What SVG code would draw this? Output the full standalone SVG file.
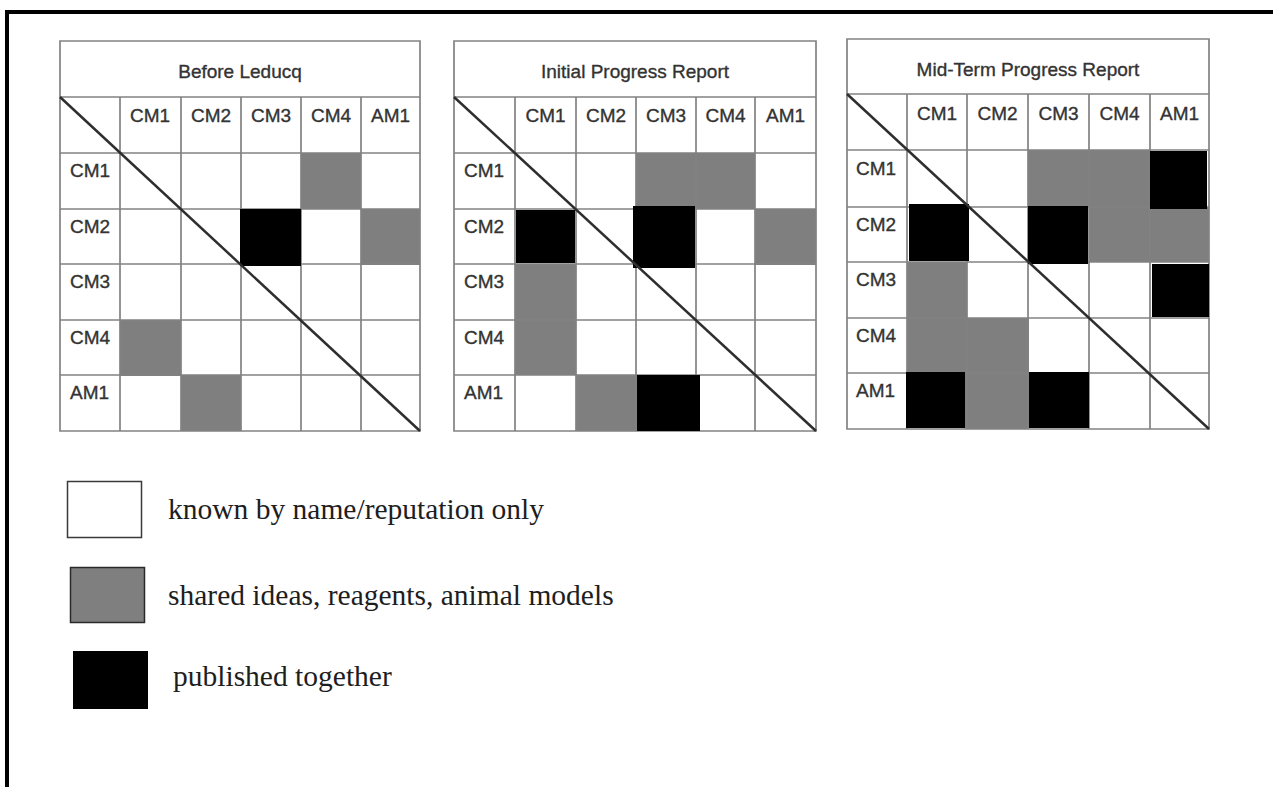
<svg xmlns="http://www.w3.org/2000/svg" width="1273" height="787" viewBox="0 0 1273 787">
<style>
.bg{fill:#ffffff}
.grid{stroke:#828282;stroke-width:1.7;fill:none}
.diag{stroke:#2e2e2e;stroke-width:2.5}
.g{fill:#7f7f7f}
.k{fill:#000000}
.t{font-family:"Liberation Sans",Arial,sans-serif;font-size:19px;fill:#333333;stroke:#333333;stroke-width:0.35}
.c{text-anchor:middle}
.lg{font-family:"Liberation Serif","Times New Roman",serif;font-size:29.5px;fill:#1e1e1e}
</style>
<rect width="1273" height="787" fill="#ffffff"/>
<g id="frame">
<line x1="5" y1="12" x2="1273" y2="12" stroke="#000" stroke-width="4"/>
<line x1="7" y1="10" x2="7" y2="787" stroke="#000" stroke-width="4"/>
</g>

<g id="matrix-before">
<rect class="g" x="301" y="153" width="60" height="56"/>
<rect class="g" x="361" y="209" width="59" height="56"/>
<rect class="g" x="120" y="320" width="61" height="56"/>
<rect class="g" x="181" y="375" width="60" height="56"/>
<path class="grid" d="M60 41H420V431H60Z M60 97H420 M60 153H420 M60 209H420 M60 264H420 M60 320H420 M60 375H420 M120 97V431 M181 97V431 M241 97V431 M301 97V431 M361 97V431"/>
<rect class="k" x="240" y="209" width="61" height="57"/>
<line class="diag" x1="60" y1="97" x2="420" y2="431"/>
<text class="t c" x="240" y="78">Before Leducq</text>
<text class="t c" x="150" y="122">CM1</text>
<text class="t c" x="211" y="122">CM2</text>
<text class="t c" x="271" y="122">CM3</text>
<text class="t c" x="331" y="122">CM4</text>
<text class="t c" x="390.5" y="122">AM1</text>
<text class="t" x="70" y="177">CM1</text>
<text class="t" x="70" y="233">CM2</text>
<text class="t" x="70" y="288">CM3</text>
<text class="t" x="70" y="344">CM4</text>
<text class="t" x="70" y="399">AM1</text>
</g>

<g id="matrix-initial">
<rect class="g" x="636" y="153" width="60" height="56"/>
<rect class="g" x="696" y="153" width="59" height="56"/>
<rect class="g" x="755" y="209" width="61" height="56"/>
<rect class="g" x="515" y="264" width="61" height="56"/>
<rect class="g" x="515" y="320" width="61" height="55"/>
<rect class="g" x="576" y="375" width="61" height="56"/>
<path class="grid" d="M454 41H816V431H454Z M454 97H816 M454 153H816 M454 209H816 M454 264H816 M454 320H816 M454 375H816 M515 97V431 M576 97V431 M636 97V431 M696 97V431 M755 97V431"/>
<rect class="k" x="516" y="210" width="59" height="53"/>
<rect class="k" x="633" y="206" width="62" height="62"/>
<rect class="k" x="637" y="375" width="63" height="56"/>
<line class="diag" x1="454" y1="97" x2="816" y2="431"/>
<text class="t c" x="635" y="78">Initial Progress Report</text>
<text class="t c" x="545.5" y="122">CM1</text>
<text class="t c" x="606" y="122">CM2</text>
<text class="t c" x="666" y="122">CM3</text>
<text class="t c" x="725.5" y="122">CM4</text>
<text class="t c" x="785.5" y="122">AM1</text>
<text class="t" x="464" y="177">CM1</text>
<text class="t" x="464" y="233">CM2</text>
<text class="t" x="464" y="288">CM3</text>
<text class="t" x="464" y="344">CM4</text>
<text class="t" x="464" y="399">AM1</text>
</g>

<g id="matrix-midterm">
<rect class="g" x="1028" y="150" width="61" height="57"/>
<rect class="g" x="1089" y="150" width="61" height="57"/>
<rect class="g" x="1089" y="207" width="61" height="55"/>
<rect class="g" x="1150" y="207" width="59" height="55"/>
<rect class="g" x="907" y="262" width="60" height="56"/>
<rect class="g" x="907" y="318" width="60" height="55"/>
<rect class="g" x="967" y="318" width="62" height="55"/>
<rect class="g" x="965" y="373" width="64" height="56"/>
<path class="grid" d="M847 39H1209V429H847Z M847 94H1209 M847 150H1209 M847 207H1209 M847 262H1209 M847 318H1209 M847 373H1209 M907 94V429 M967 94V429 M1028 94V429 M1089 94V429 M1150 94V429"/>
<rect class="k" x="1150" y="151" width="57" height="58"/>
<rect class="k" x="909" y="204" width="60" height="57"/>
<rect class="k" x="1028" y="206" width="60" height="58"/>
<rect class="k" x="1152" y="264" width="57" height="53"/>
<rect class="k" x="906" y="372" width="59" height="56"/>
<rect class="k" x="1029" y="372" width="60" height="56"/>
<line class="diag" x1="847" y1="94" x2="1209" y2="429"/>
<text class="t c" x="1028" y="76">Mid-Term Progress Report</text>
<text class="t c" x="937" y="120">CM1</text>
<text class="t c" x="997.5" y="120">CM2</text>
<text class="t c" x="1058.5" y="120">CM3</text>
<text class="t c" x="1119.5" y="120">CM4</text>
<text class="t c" x="1179.5" y="120">AM1</text>
<text class="t" x="856" y="175">CM1</text>
<text class="t" x="856" y="231">CM2</text>
<text class="t" x="856" y="286">CM3</text>
<text class="t" x="856" y="342">CM4</text>
<text class="t" x="856" y="397">AM1</text>
</g>

<g id="legend">
<g id="legend-known">
<rect x="67.5" y="481.5" width="74" height="56" fill="#ffffff" stroke="#3a3a3a" stroke-width="1.5"/>
<text class="lg" x="168" y="519">known by name/reputation only</text>
</g>
<g id="legend-shared">
<rect x="70.5" y="567.5" width="74" height="55" fill="#7f7f7f" stroke="#2a2a2a" stroke-width="1.5"/>
<text class="lg" x="168" y="605">shared ideas, reagents, animal models</text>
</g>
<g id="legend-published">
<rect x="73" y="651" width="75" height="58" fill="#000000"/>
<text class="lg" x="173" y="686">published together</text>
</g>
</g>
</svg>
